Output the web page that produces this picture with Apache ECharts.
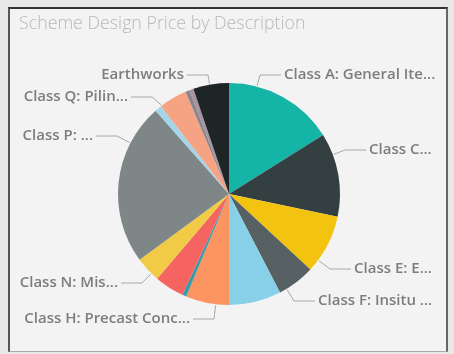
<!DOCTYPE html>
<html>
<head>
<meta charset="utf-8">
<script src="https://cdn.jsdelivr.net/npm/echarts@6/dist/echarts.min.js"></script>
<style>
html,body{margin:0;padding:0;width:454px;height:354px;background:#e8e8e8;overflow:hidden;}
#frame{position:absolute;left:8px;top:7px;width:436px;height:342px;background:#f3f3f3;border-left:2px solid #555;border-top:2px solid #333;border-right:2px solid #666;border-bottom:1px solid #aaa;}
#chart{position:absolute;left:0;top:0;width:454px;height:354px;}
</style>
</head>
<body>
<div id="frame"></div>
<div id="chart"></div>
<script>
const titleText = 'Scheme Design Price by Description';
const categories = ['Class A: General Items','Class C','Class E','Class F: Insitu','Class G','Class H: Precast Concrete','Class I','Class K','Class N: Miscellaneous','Class P','Class P2','Class Q: Piling','Class R','Class S','Earthworks'];
const labelTexts = ['Class A: General Ite...','Class C...','Class E: E...','Class F: Insitu ...','','Class H: Precast Conc...','','','Class N: Mis...','Class P: ...','','Class Q: Pilin...','','','Earthworks'];
const values = [16.1,12.2,8.6,5.5,7.6,6.3,0.6,4.3,3.7,23.6,1.0,4.1,0.6,0.6,5.2];
const colors = ['#14b5a7','#343f42','#f2c40f','#576164','#88cfe8','#fb9460','#3a9aa5','#f66461','#f1cb45','#7e8687','#a2d6e8','#f5a383','#86868c','#a993a0','#1e2527'];

// label placement (layout only, keyed by category)
const labelPlacement = {
  'Earthworks': {x:184, y:75, align:'right'},
  'Class A: General Items': {x:284, y:75, align:'left'},
  'Class C': {x:369, y:150, align:'left'},
  'Class E': {x:354, y:269, align:'left'},
  'Class F: Insitu': {x:318, y:301, align:'left'},
  'Class H: Precast Concrete': {x:190, y:319, align:'right'},
  'Class N: Miscellaneous': {x:118, y:283, align:'right'},
  'Class P': {x:93, y:136, align:'right'},
  'Class Q: Piling': {x:128, y:97, align:'right'}
};
const CX = 229, CY = 194, R = 111;

const total = values.reduce((a,b)=>a+b,0);
const sliceStart = [], sliceEnd = [];
let acc = 0;
values.forEach(v=>{ sliceStart.push(acc/total*360); acc += v; sliceEnd.push(acc/total*360); });

const chart = echarts.init(document.getElementById('chart'), null, {renderer:'canvas'});
const data = categories.map((c,i)=>({
  name:c, value:values[i],
  itemStyle:{color:colors[i]},
  label:{show: labelTexts[i] !== '', formatter: labelTexts[i]},
  labelLine:{show: labelTexts[i] !== ''}
}));
chart.setOption({
  animation:false,
  title:{text:titleText,left:14,top:10,textStyle:{fontFamily:'Open Sans',fontWeight:300,fontSize:17.8,color:'#b8b8b8'}},
  series:[{
    type:'pie',
    center:[CX,CY],
    radius:[0,R],
    startAngle:90,
    clockwise:true,
    avoidLabelOverlap:false,
    data:data,
    label:{position:'outside',fontFamily:'Open Sans',fontWeight:600,fontSize:15,color:'#7d7d7d'},
    labelLine:{length:6,length2:22,lineStyle:{color:'#a8a8a8',width:1}},
    labelLayout:function(p){
      const i = p.dataIndex;
      const pl = labelPlacement[categories[i]];
      if(!pl) return {};
      const s = pl.align === 'left' ? 1 : -1;
      const p2 = [pl.x - s*3, pl.y];
      const knee = [pl.x - s*24, pl.y];
      let ang = Math.atan2(knee[0]-CX, -(knee[1]-CY))*180/Math.PI;
      if (ang < 0) ang += 360;
      ang = Math.min(Math.max(ang, sliceStart[i]+0.5), sliceEnd[i]-0.5);
      const a = ang*Math.PI/180;
      const p0 = [CX + (R+1)*Math.sin(a), CY - (R+1)*Math.cos(a)];
      return {x:pl.x, y:pl.y, align:pl.align, verticalAlign:'middle', labelLinePoints:[p0, knee, p2]};
    },
    emphasis:{disabled:true}
  }]
});
</script>
</body>
</html>
